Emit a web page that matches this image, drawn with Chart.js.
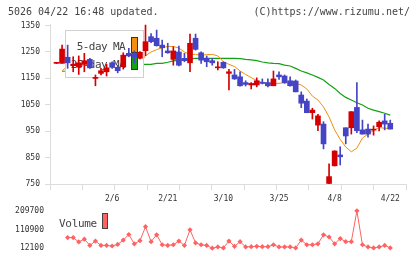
<!DOCTYPE html>
<html>
<head>
<meta charset="utf-8">
<script src="https://cdn.jsdelivr.net/npm/chart.js@4"></script>
<style>
body { margin: 0; background: #fff; }
#wrap { position: relative; width: 420px; height: 259px; overflow: hidden; font-family: 'DejaVu Sans Mono', monospace; color: #444; }
.hdr { position: absolute; top: 6px; font-size: 10px; line-height: 12px; white-space: pre; }
#main { position: absolute; left: 0; top: 0; }
#vol { position: absolute; left: 0; top: 200px; }
</style>
</head>
<body>
<div id="wrap">
  <canvas id="main" width="420" height="210"></canvas>
  <canvas id="vol" width="420" height="59"></canvas>
  <div class="hdr" style="left:8px">5026 04/22 16:48 updated.</div>
  <div class="hdr" style="right:10px">(C)https://www.rizumu.net/</div>
</div>
<script>
// trading days shown on the chart
const dates = ['1/23','1/24','1/27','1/28','1/29','1/30','1/31',
  '2/3','2/4','2/5','2/6','2/7','2/10','2/12','2/13','2/14','2/17','2/18','2/19','2/20','2/21',
  '2/25','2/26','2/27','2/28','3/3','3/4','3/5','3/6','3/7','3/10','3/11','3/12','3/13','3/14',
  '3/17','3/18','3/19','3/21','3/24','3/25','3/26','3/27','3/28','3/31',
  '4/1','4/2','4/3','4/4','4/7','4/8','4/9','4/10','4/11','4/14','4/15','4/16','4/17','4/18','4/21','4/22'];
const dateTicks = ['2/6', '2/21', '3/10', '3/25', '4/8', '4/22'];

const opens  = [1207,1207,1230,1198,1194,1203,1222,1150,1169,1175,1209,1192,1194,1245,1245,1226,1255,1308,1302,1276,1254,
  1222,1250,1226,1209,1302,1247,1226,1217,1190,1211,1169,1163,1156,1134,1125,1125,1134,1134,1122,1163,
  1159,1141,1140,1087,1064,1020,973,977,752,819,860,963,963,1040,955,958,954,967,989,980];
const closes = [1207,1261,1209,1204,1209,1217,1190,1154,1179,1190,1192,1179,1238,1235,1230,1249,1289,1289,1274,1266,1247,
  1254,1200,1217,1283,1260,1219,1213,1209,1191,1190,1175,1148,1122,1127,1131,1141,1131,1122,1148,1156,
  1134,1122,1099,1056,1020,1030,1008,902,778,875,853,932,1024,952,939,939,955,984,977,958];
const highs  = [1208,1276,1276,1232,1235,1245,1226,1163,1188,1203,1213,1200,1247,1264,1254,1252,1352,1320,1333,1295,1283,
  1270,1272,1245,1318,1318,1251,1235,1226,1213,1213,1184,1184,1175,1141,1134,1152,1148,1148,1178,1175,
  1163,1156,1144,1099,1072,1037,1014,986,826,876,891,963,1024,1134,992,977,970,989,1014,992];
const lows   = [1206,1207,1188,1175,1165,1175,1188,1122,1163,1159,1188,1171,1185,1232,1208,1224,1236,1285,1272,1232,1245,
  1200,1197,1213,1175,1257,1207,1194,1200,1182,1188,1106,1146,1121,1121,1110,1118,1129,1118,1122,1146,
  1131,1121,1099,1039,1020,996,952,883,748,818,822,902,939,944,939,927,935,951,955,958];

const ma5  = [null,1179,1195,1198,1203,1206,1203,1195,1188,1184,1183,1185,1190,1195,1200,1205,1236,1250,1259,1266,1271,
  1271,1265,1250,1241,1241,1237,1240,1241,1235,1213,1203,1195,1178,1165,1153,1142,1134,1131,1131,1131,
  1134,1131,1131,1125,1110,1083,1068,1042,1004,955,919,890,872,886,924,939,953,964,961,961];
const ma25 = [null,1177,1178,1180,1182,1183,1185,1186,1188,1190,1192,1194,1196,1198,1200,1202,1203,1203,1207,1207,1211,
  1216,1219,1220,1224,1226,1226,1226,1226,1226,1226,1226,1226,1225,1222,1220,1217,1212,1209,1207,1206,
  1200,1197,1188,1178,1171,1163,1154,1144,1127,1112,1093,1078,1068,1058,1049,1037,1030,1024,1018,1011];

const volume = [null,null,68100,68100,45000,59900,26900,50000,26900,26900,23600,31900,54900,84600,35200,51600,125700,46700,82900,30200,26900,
  30200,50000,26900,109300,40100,30200,26900,12100,18700,13700,50000,22000,46700,18700,20300,22000,20300,20300,30200,18700,
  18700,18700,13700,54900,30200,30200,35200,82900,71400,35200,63100,46700,46700,209700,30200,18700,13700,18700,26900,13700];

const priceTicks = [750, 850, 950, 1050, 1150, 1250, 1350];
const volumeTicks = [12100, 110900, 209700];

const RED = '#d40000';
const BLUE = '#4444c4';
const ORANGE = '#f0900c';
const GREEN = '#14a014';
const VOLC = '#ff6262';
const AXIS = '#dcdcdc';
const MONO = 'DejaVu Sans Mono';

const X_MIN = -1.17, X_MAX = 62.83;
const idx = dates.map((d, i) => i);
const candleColor = idx.map(i => closes[i] >= opens[i] ? RED : BLUE);

// legend box drawn under the candles but over the average lines
const maLegend = {
    id: 'maLegend',
    beforeDatasetDraw(chart, args) {
        if (args.index !== 2) return;
        const c = chart.ctx;
        const l = chart.chartArea.left + 15.5, t = chart.chartArea.top + 6.5;
        c.save();
        c.fillStyle = '#fff';
        c.fillRect(l, t, 78, 47);
        c.strokeStyle = '#d0d0d0';
        c.lineWidth = 1;
        c.strokeRect(l, t, 78, 47);
        c.font = '11px ' + MONO;
        c.letterSpacing = '-0.6px';
        c.fillStyle = '#444';
        c.textAlign = 'right';
        c.textBaseline = 'alphabetic';
        c.fillText('5-day MA', l + 59.5, t + 19.5);
        c.fillText('25-day MA', l + 59.5, t + 37);
        c.strokeStyle = '#333';
        c.fillStyle = ORANGE;
        c.fillRect(l + 66, t + 7, 6, 15);
        c.strokeRect(l + 66, t + 7, 6, 15);
        c.fillStyle = GREEN;
        c.fillRect(l + 66, t + 24, 6, 15);
        c.strokeRect(l + 66, t + 24, 6, 15);
        c.restore();
    }
};

const mainChart = new Chart(document.getElementById('main').getContext('2d'), {
    data: {
        datasets: [{
            type: 'line',
            label: '5-day MA',
            data: idx.map(i => ({ x: i, y: ma5[i] })),
            borderColor: ORANGE,
            borderWidth: 1,
            pointRadius: 0,
            xAxisID: 'x',
            order: 3
        }, {
            type: 'line',
            label: '25-day MA',
            data: idx.map(i => ({ x: i, y: ma25[i] })),
            borderColor: GREEN,
            borderWidth: 1.2,
            pointRadius: 0,
            xAxisID: 'x',
            order: 4
        }, {
            type: 'bar',
            label: 'wick',
            data: idx.map(i => ({ x: i, y: [lows[i], highs[i]] })),
            backgroundColor: candleColor,
            barThickness: 1,
            grouped: false,
            xAxisID: 'x',
            order: 2
        }, {
            type: 'bar',
            label: 'body',
            data: idx.map(i => ({ x: i, y: [opens[i], closes[i]] })),
            backgroundColor: candleColor,
            barThickness: 5,
            minBarLength: 1,
            grouped: false,
            xAxisID: 'x',
            order: 1
        }]
    },
    options: {
        responsive: false,
        animation: false,
        layout: { padding: { top: 24, right: 14, left: 0, bottom: 0 } },
        plugins: { legend: { display: false }, tooltip: { enabled: false } },
        scales: {
            x: {
                type: 'linear',
                min: X_MIN,
                max: X_MAX,
                offset: false,
                weight: 1,
                grid: { display: false, drawTicks: false, offset: false },
                border: { display: false },
                afterBuildTicks: s => { s.ticks = dateTicks.map(t => ({ value: dates.indexOf(t) })); },
                ticks: {
                    callback: v => dates[v],
                    font: { family: MONO, size: 8 },
                    color: '#333',
                    padding: 4,
                    maxRotation: 0,
                    autoSkip: false
                },
                afterFit: s => { s.height = 20; }
            },
            x2: {
                type: 'linear',
                position: 'bottom',
                min: 0,
                max: 11,
                offset: false,
                weight: 0,
                ticks: { display: false, stepSize: 1 },
                grid: { drawOnChartArea: false, tickLength: 6, color: AXIS, offset: false },
                border: { color: AXIS },
                afterFit: s => { s.height = 6; }
            },
            y: {
                min: 750,
                max: 1356,
                afterBuildTicks: s => { s.ticks = priceTicks.map(v => ({ value: v })); },
                grid: { drawOnChartArea: false, tickLength: 5, color: AXIS },
                border: { color: AXIS },
                ticks: { font: { family: MONO, size: 8 }, color: '#333', padding: 5, callback: v => String(v) },
                afterFit: s => { s.width = 50; }
            }
        }
    },
    plugins: [maLegend]
});

const volLegend = {
    id: 'volLegend',
    afterDraw(chart) {
        const c = chart.ctx;
        c.save();
        c.font = '11px ' + MONO;
        c.letterSpacing = '-0.3px';
        c.fillStyle = '#444';
        c.textAlign = 'left';
        c.fillText('Volume', 59, 26.5);
        c.fillStyle = VOLC;
        c.strokeStyle = '#444';
        c.fillRect(102.5, 13.5, 5, 15);
        c.strokeRect(102.5, 13.5, 5, 15);
        c.restore();
    }
};

const volChart = new Chart(document.getElementById('vol').getContext('2d'), {
    type: 'line',
    data: {
        datasets: [{
            label: 'Volume',
            data: idx.map(i => ({ x: i, y: volume[i] })),
            borderColor: VOLC,
            backgroundColor: VOLC,
            borderWidth: 1,
            pointStyle: 'rectRot',
            pointRadius: 2.6,
            pointBorderWidth: 0,
            clip: false
        }]
    },
    options: {
        responsive: false,
        animation: false,
        layout: { padding: { top: 9, right: 14, left: 0, bottom: 10 } },
        plugins: { legend: { display: false }, tooltip: { enabled: false } },
        scales: {
            x: { type: 'linear', min: X_MIN, max: X_MAX, display: false },
            y: {
                min: 12100,
                max: 209700,
                afterBuildTicks: s => { s.ticks = volumeTicks.map(v => ({ value: v })); },
                grid: { display: false, drawTicks: false },
                border: { display: false },
                ticks: { font: { family: MONO, size: 8 }, color: '#333', padding: 6, callback: v => String(v) },
                afterFit: s => { s.width = 50; }
            }
        }
    },
    plugins: [volLegend]
});
</script>
</body>
</html>
